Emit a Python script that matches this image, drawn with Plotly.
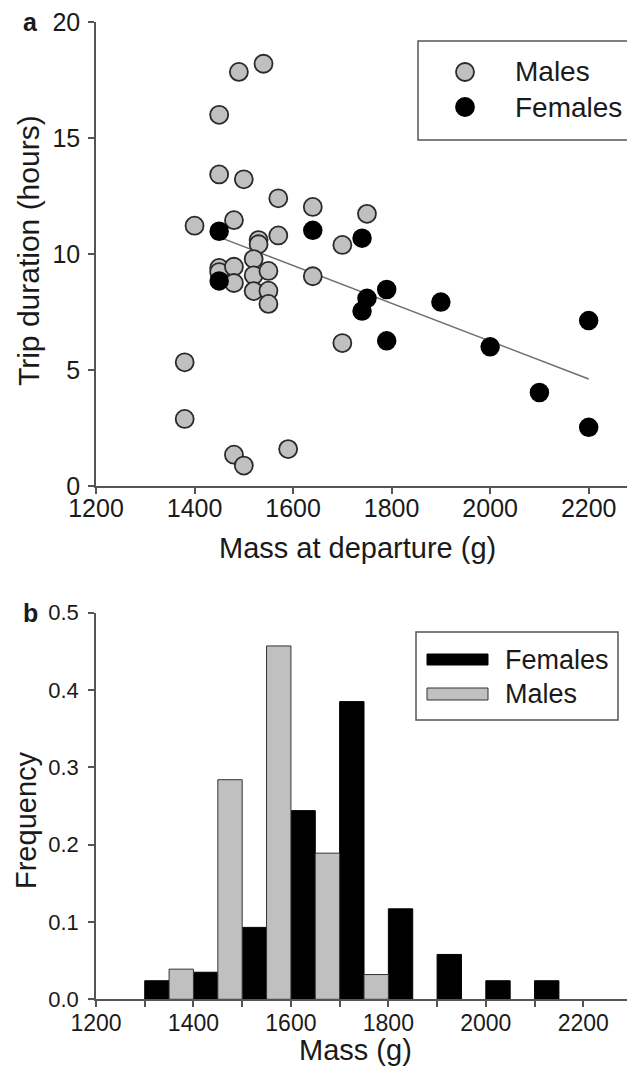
import numpy as np
import plotly.graph_objects as go

# ---------------- data ----------------
male_mass = [1490, 1540, 1450, 1450, 1500, 1570, 1640, 1750, 1400, 1480,
             1570, 1700, 1530, 1530, 1520, 1450, 1450, 1480, 1480, 1520,
             1550, 1520, 1550, 1550, 1640, 1700, 1380, 1380, 1480, 1500, 1590]
male_trip = [17.85, 18.2, 16.0, 13.43, 13.22, 12.4, 12.03, 11.73, 11.22, 11.46,
             10.8, 10.39, 10.6, 10.42, 9.78, 9.4, 9.22, 9.45, 8.75, 9.08,
             9.27, 8.4, 8.42, 7.85, 9.04, 6.16, 5.33, 2.89, 1.35, 0.88, 1.59]

female_mass = [1450, 1450, 1640, 1740, 1750, 1740, 1790, 1790, 1900, 2000, 2100, 2200, 2200]
female_trip = [10.98, 8.84, 11.02, 10.68, 8.09, 7.54, 8.47, 6.26, 7.93, 6.0, 4.03, 7.13, 2.53]

bin_start = [1300, 1400, 1500, 1600, 1700, 1800, 1900, 2000, 2100]
female_freq = [0.024, 0.035, 0.093, 0.244, 0.385, 0.117, 0.058, 0.024, 0.024]
male_freq = [0.039, 0.284, 0.457, 0.189, 0.032, None, None, None, None]

top_xticks = [1200, 1400, 1600, 1800, 2000, 2200]
top_yticks = [0, 5, 10, 15, 20]
bot_xticks = list(range(1200, 2301, 100))
bot_xlabels = [str(v) if (v % 200 == 0 and v <= 2200) else "" for v in bot_xticks]
bot_yticks = [0.0, 0.1, 0.2, 0.3, 0.4, 0.5]
bot_ylabels = ["0.0", "0.1", "0.2", "0.3", "0.4", "0.5"]

# ---------------- layout helpers ----------------
OFF = 8  # page body margin
FW, FH = 627, 1060
FONT = "Liberation Sans, Arial, sans-serif"
TXT = "#1a1a1a"
AX = "#555555"
GRAY = "#c0c0c0"


def px(p):
    return (p - OFF) / FW


def py(p):
    return 1 - (p - OFF) / FH


# regression of trip duration on mass for females
coef = np.polyfit(female_mass, female_trip, 1)
reg_x = [min(female_mass), max(female_mass)]
reg_y = list(np.polyval(coef, reg_x))

fig = go.Figure()

fig.add_trace(go.Scatter(x=reg_x, y=reg_y, mode="lines",
                         line=dict(color="#6e6e6e", width=1.5),
                         showlegend=False, xaxis="x", yaxis="y"))
fig.add_trace(go.Scatter(x=male_mass, y=male_trip, mode="markers", name="Males",
                         marker=dict(size=18, color=GRAY,
                                     line=dict(color="#2a2a2a", width=1.8)),
                         showlegend=False, xaxis="x", yaxis="y"))
fig.add_trace(go.Scatter(x=female_mass, y=female_trip, mode="markers", name="Females",
                         marker=dict(size=18, color="black",
                                     line=dict(color="black", width=1.5)),
                         showlegend=False, xaxis="x", yaxis="y"))

fig.add_trace(go.Bar(x=[b + 25 for b in bin_start], y=female_freq, width=50,
                     name="Females", marker=dict(color="black", line=dict(color="black", width=1)),
                     showlegend=False, xaxis="x2", yaxis="y2"))
fig.add_trace(go.Bar(x=[b + 75 for b in bin_start], y=male_freq, width=50,
                     name="Males", marker=dict(color=GRAY, line=dict(color="#333333", width=1)),
                     showlegend=False, xaxis="x2", yaxis="y2"))

axis_common = dict(showgrid=False, zeroline=False, showline=True, linecolor=AX,
                   linewidth=1.5, ticks="outside", ticklen=6, tickwidth=1.5,
                   tickcolor=AX, automargin=False, ticklabeloverflow="allow")

fig.update_layout(
    width=FW, height=FH,
    margin=dict(l=0, r=0, t=0, b=0),
    paper_bgcolor="white", plot_bgcolor="white",
    font=dict(family=FONT, color=TXT),
    barmode="overlay",
    showlegend=False,
    xaxis=dict(domain=[px(96), 1.0], range=[1200, 2294], tickvals=top_xticks,
               anchor="y", tickfont=dict(size=25, color=TXT), ticklabelstandoff=-7,
               **axis_common),
    yaxis=dict(domain=[py(486), py(22)], range=[0, 20], tickvals=top_yticks,
               anchor="x", tickfont=dict(size=25, color=TXT), ticklabelstandoff=3,
               **axis_common),
    xaxis2=dict(domain=[px(96), px(632)], range=[1200, 2300], tickvals=bot_xticks,
                ticktext=bot_xlabels, anchor="y2", tickfont=dict(size=23, color=TXT),
                ticklabelstandoff=-4, **axis_common),
    yaxis2=dict(domain=[py(999.3), py(612.7)], range=[0, 0.5], tickvals=bot_yticks,
                ticktext=bot_ylabels, anchor="x2", tickfont=dict(size=22, color=TXT),
                ticklabelstandoff=5, **axis_common),
)

ann = []
# axis titles
ann.append(dict(text="Trip duration (hours)", x=px(28), y=py(251), xref="paper", yref="paper",
                textangle=-90, showarrow=False, font=dict(size=30, color=TXT),
                xanchor="center", yanchor="middle"))
ann.append(dict(text="Mass at departure (g)", x=px(357), y=py(548), xref="paper", yref="paper",
                showarrow=False, font=dict(size=29, color=TXT), xanchor="center", yanchor="middle"))
ann.append(dict(text="Frequency", x=px(26), y=py(820), xref="paper", yref="paper",
                textangle=-90, showarrow=False, font=dict(size=29, color=TXT),
                xanchor="center", yanchor="middle"))
ann.append(dict(text="Mass (g)", x=px(355), y=py(1050), xref="paper", yref="paper",
                showarrow=False, font=dict(size=29, color=TXT), xanchor="center", yanchor="middle"))
# panel letters
ann.append(dict(text="<b>a</b>", x=px(30), y=20, xref="paper", yref="y", showarrow=False,
                font=dict(size=25, color=TXT), xanchor="center", yanchor="middle"))
ann.append(dict(text="<b>b</b>", x=px(30), y=0.5, xref="paper", yref="y2", showarrow=False,
                font=dict(size=25, color=TXT), xanchor="center", yanchor="middle"))
# legend texts
ann.append(dict(text="Males", x=px(513), y=py(72), xref="paper", yref="paper", showarrow=False,
                font=dict(size=28, color=TXT), xanchor="left", yanchor="middle"))
ann.append(dict(text="Females", x=px(513), y=py(107), xref="paper", yref="paper", showarrow=False,
                font=dict(size=28, color=TXT), xanchor="left", yanchor="middle"))
ann.append(dict(text="Females", x=px(503), y=py(660), xref="paper", yref="paper", showarrow=False,
                font=dict(size=27, color=TXT), xanchor="left", yanchor="middle"))
ann.append(dict(text="Males", x=px(503), y=py(694), xref="paper", yref="paper", showarrow=False,
                font=dict(size=27, color=TXT), xanchor="left", yanchor="middle"))

shapes = []
# legend boxes
shapes.append(dict(type="rect", xref="paper", yref="paper", x0=px(418), x1=px(650),
                   y0=py(140), y1=py(41), line=dict(color="#555555", width=1.5),
                   fillcolor="rgba(0,0,0,0)"))
shapes.append(dict(type="rect", xref="paper", yref="paper", x0=px(416), x1=px(618),
                   y0=py(720), y1=py(632), line=dict(color="#555555", width=1.5),
                   fillcolor="rgba(0,0,0,0)"))
# legend symbols (scatter)
for cy, fill, edge in [(72, GRAY, "#2a2a2a"), (107, "black", "black")]:
    shapes.append(dict(type="circle", xref="paper", yref="paper",
                       xsizemode="pixel", ysizemode="pixel",
                       xanchor=px(465), yanchor=py(cy), x0=-9, x1=9, y0=-9, y1=9,
                       fillcolor=fill, line=dict(color=edge, width=1.8)))
# legend swatches (histogram)
shapes.append(dict(type="rect", xref="paper", yref="paper", x0=px(427), x1=px(488),
                   y0=py(665), y1=py(654), fillcolor="black", line=dict(color="black", width=1)))
shapes.append(dict(type="rect", xref="paper", yref="paper", x0=px(427), x1=px(488),
                   y0=py(700), y1=py(688), fillcolor=GRAY, line=dict(color="#333333", width=1)))

fig.update_layout(annotations=ann, shapes=shapes)

fig.write_html("out.html")
